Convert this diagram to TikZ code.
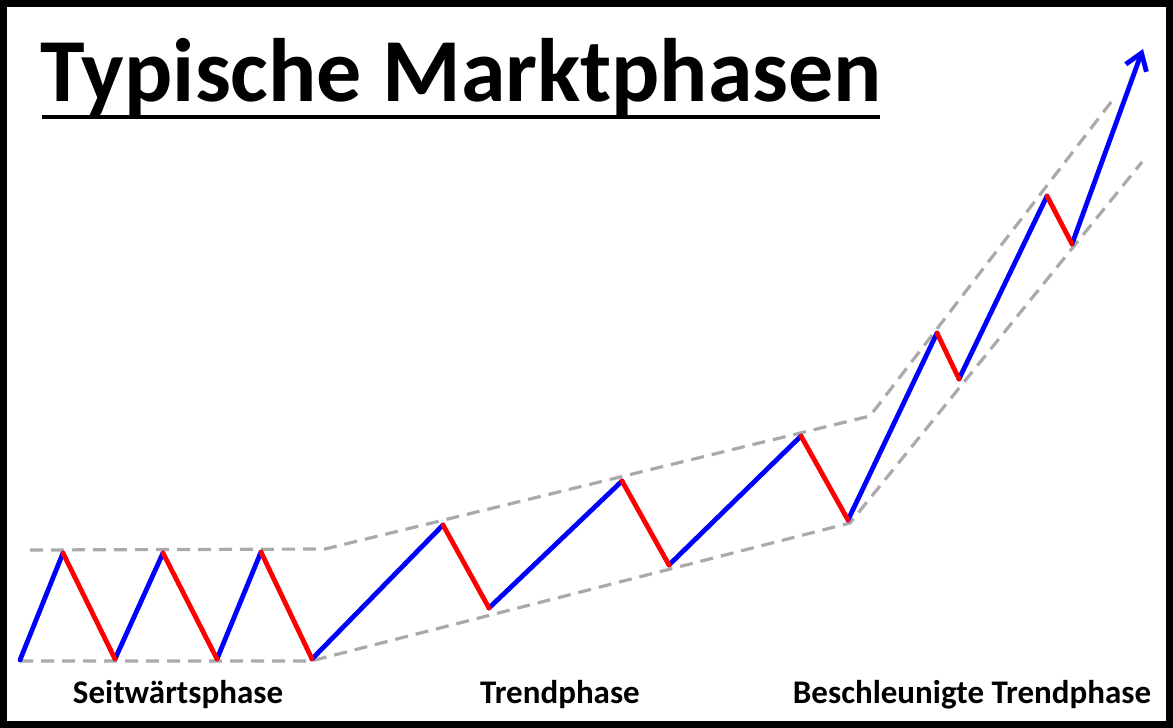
\documentclass[tikz,border=0pt]{standalone}
\usepackage{fontspec}
\setmainfont{Carlito}
\usetikzlibrary{arrows.meta}
\begin{document}
\begin{tikzpicture}[x=1pt,y=-1pt,
  up/.style={draw={rgb,255:red,0;green,0;blue,255},line width=4.8pt,line cap=round,line join=round},
  down/.style={draw={rgb,255:red,255;green,0;blue,0},line width=4.8pt,line cap=round,line join=round},
  guide/.style={draw={rgb,255:red,170;green,170;blue,170},line width=3.2pt,dash pattern=on 13pt off 8pt},
  phaselabel/.style={font=\fontsize{33}{36}\selectfont\bfseries,anchor=base,inner sep=0pt}]
\useasboundingbox (0,0) rectangle (1173,728);
\fill[white] (0,0) rectangle (1173,728);
\draw[black,line width=7pt] (3.5,3.5) rectangle (1169.5,724.5);
% title
\node[anchor=base west,inner sep=0pt,font=\fontsize{90}{94}\selectfont\bfseries] (title) at (40,101) {Typische Marktphasen};
\draw[black,line width=4.5pt] (42,117) -- (880,117);
% guide lines
\coordinate (t0) at (30,550);
\coordinate (t1) at (325,549);
\coordinate (t2) at (870,416);
\coordinate (t3) at (1115,97);
\coordinate (b0) at (20,661);
\coordinate (b1) at (311,661);
\coordinate (b2) at (850,523);
\coordinate (b3) at (1142,162);
\draw[guide] (t0) -- (t1) -- (t2) -- (t3);
\draw[guide] (b0) -- (b1) -- (b2) -- (b3);
% price path points
\coordinate (p0) at (20,660);
\coordinate (p1) at (63,553);
\coordinate (p2) at (115,659);
\coordinate (p3) at (163,553);
\coordinate (p4) at (217,659);
\coordinate (p5) at (261,552);
\coordinate (p6) at (312,659);
\coordinate (p7) at (443,525);
\coordinate (p8) at (489,608);
\coordinate (p9) at (622,481);
\coordinate (p10) at (669,565);
\coordinate (p11) at (801,436);
\coordinate (p12) at (848,520);
\coordinate (p13) at (937,333);
\coordinate (p14) at (959,379);
\coordinate (p15) at (1047,196);
\coordinate (p16) at (1072,244);
\coordinate (p17) at (1143,49);
\draw[up] (p0) -- (p1);
\draw[up] (p2) -- (p3);
\draw[up] (p4) -- (p5);
\draw[up] (p6) -- (p7);
\draw[up] (p8) -- (p9);
\draw[up] (p10) -- (p11);
\draw[up] (p12) -- (p13);
\draw[up] (p14) -- (p15);
\draw[up,-{Straight Barb[length=16pt,width=22pt,line width=4.8pt]}] (p16) -- (p17);
\draw[down] (p1) -- (p2);
\draw[down] (p3) -- (p4);
\draw[down] (p5) -- (p6);
\draw[down] (p7) -- (p8);
\draw[down] (p9) -- (p10);
\draw[down] (p11) -- (p12);
\draw[down] (p13) -- (p14);
\draw[down] (p15) -- (p16);
% labels
\node[phaselabel] (l1) at (178,703) {Seitwärtsphase};
\node[phaselabel] (l2) at (560,703) {Trendphase};
\node[phaselabel] (l3) at (972,703) {Beschleunigte Trendphase};
\end{tikzpicture}
\end{document}
